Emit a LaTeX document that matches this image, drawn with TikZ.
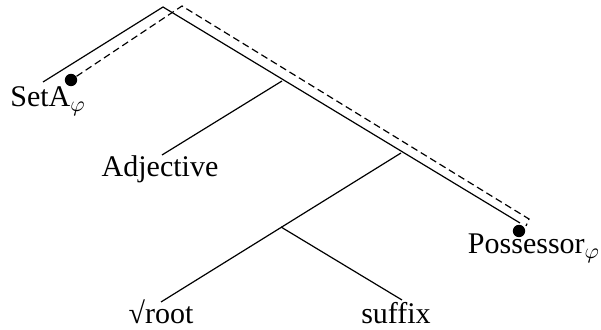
\documentclass[tikz,border=0pt]{standalone}
\usepackage{fontspec}
\setmainfont{Liberation Serif}
\usetikzlibrary{calc}

\tikzset{
  branch/.style={semithick},
  leaf/.style={inner sep=0pt, font=\fontsize{15}{18}\selectfont},
  trace/.style={semithick, dash pattern=on 3.5pt off 2pt},
  dot/.style={circle, fill, inner sep=0pt, minimum size=6.2pt}
}

\begin{document}
\begin{tikzpicture}[x=0.5pt, y=0.5pt]
\useasboundingbox (0,0) rectangle (601,-330);

% branching points
\coordinate (top) at (163,-7);
\coordinate (adjN) at (282,-81);
\coordinate (possN) at (401,-153);
\coordinate (rootN) at (281,-227);

% ends of the branches
\coordinate (setAE) at (43,-82);
\coordinate (adjE) at (162,-155);
\coordinate (possE) at (520,-223);
\coordinate (rootE) at (161,-302);
\coordinate (sufE) at (402,-300);

% leaves
\node[leaf, anchor=base] (setA) at (48,-107) {SetA$_{\varphi}$};
\node[leaf, anchor=base] (adj) at (160,-177) {Adjective};
\node[leaf, anchor=base] (poss) at (534,-254) {Possessor$_{\varphi}$};
\node[leaf, anchor=base] (root) at (161,-324) {√root};
\node[leaf, anchor=base] (suf) at (396,-324) {suffix};

\draw[branch] (setAE) -- (top) -- (possE);
\draw[branch] (adjN) -- (adjE);
\draw[branch] (possN) -- (rootE);
\draw[branch] (rootN) -- (sufE);

% the path from SetA up and down to the possessor
\node[dot] (dotS) at (71,-80) {};
\node[dot] (dotP) at (519,-231) {};
\coordinate (trTop) at (182,-6);
\coordinate (trCorner) at (529,-219);
\coordinate (trEnd) at (526,-226);
\draw[trace] (dotS) -- (trTop) -- (trCorner) -- (trEnd);
\end{tikzpicture}
\end{document}
